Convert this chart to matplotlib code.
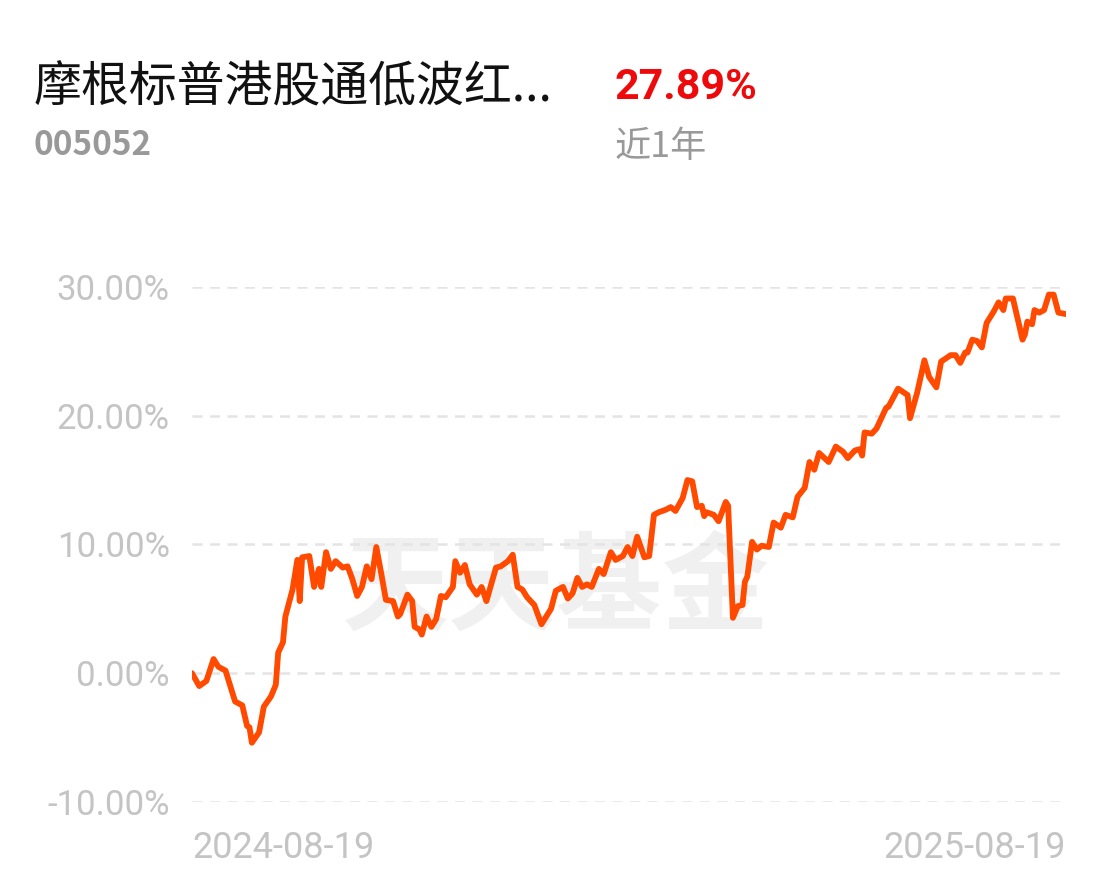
import matplotlib
matplotlib.use("Agg")
import matplotlib.pyplot as plt
import numpy as np
import pandas as pd

plt.rcParams["font.family"] = ["Noto Sans CJK SC", "DejaVu Sans"]

FUND_NAME = "摩根标普港股通低波红..."
FUND_CODE = "005052"
RETURN_TEXT = "27.89%"
PERIOD_TEXT = "近1年"
WATERMARK = "天天基金"

START = pd.Timestamp("2024-08-19")
END = pd.Timestamp("2025-08-19")

# days since start date
DAYS = [0, 3, 6, 9, 11, 14, 18, 21, 23, 24, 25, 28, 30, 33, 35, 36, 38, 39, 42, 44,
        45, 46, 49, 51, 53, 54, 56, 58, 60, 63, 65, 67, 69, 71, 73, 75, 77, 79, 81, 84,
        86, 87, 90, 92, 93, 95, 96, 98, 100, 102, 104, 106, 109, 110, 112, 114, 116, 119,
        121, 123, 127, 129, 132, 134, 136, 138, 140, 143, 146, 150, 152, 155, 157, 159,
        161, 163, 165, 167, 170, 172, 175, 177, 180, 182, 184, 186, 189, 191, 193, 195,
        198, 200, 202, 205, 207, 209, 211, 213, 214, 215, 218, 220, 223, 224, 226, 228,
        230, 231, 232, 234, 236, 238, 241, 243, 246, 248, 251, 253, 256, 258, 260, 262,
        266, 269, 272, 274, 277, 279, 280, 281, 284, 286, 288, 290, 291, 295, 299, 300,
        303, 306, 308, 311, 313, 317, 319, 321, 323, 324, 326, 328, 330, 332, 335, 337,
        339, 340, 343, 347, 348, 349, 351, 352, 354, 356, 358, 360, 362, 365]

# cumulative return, %
RETURNS = [0.0, -1.0, -0.6, 1.1, 0.5, 0.2, -2.2, -2.5, -4.1, -4.2, -5.4, -4.6, -2.6, -1.8,
           -0.9, 1.6, 2.4, 4.4, 6.5, 8.8, 5.6, 9.0, 9.1, 6.7, 8.1, 6.7, 9.4, 8.1, 8.7, 8.2,
           8.3, 7.3, 6.0, 6.7, 8.3, 7.3, 9.8, 7.8, 5.7, 5.6, 4.4, 4.6, 6.1, 5.6, 3.6, 3.4,
           3.0, 4.4, 3.6, 4.2, 6.0, 5.9, 6.7, 8.7, 7.8, 8.4, 6.9, 6.1, 6.7, 5.6, 8.2, 8.3,
           8.7, 9.2, 6.7, 6.5, 5.9, 5.3, 3.8, 5.0, 6.4, 6.7, 5.8, 6.2, 7.4, 6.7, 6.9, 6.7,
           8.1, 7.7, 9.4, 8.8, 9.1, 9.8, 9.1, 10.6, 9.0, 9.1, 12.3, 12.5, 12.7, 12.9, 12.6,
           13.6, 15.0, 14.9, 12.9, 13.0, 12.2, 12.5, 12.3, 11.8, 13.3, 13.0, 4.3, 5.2, 5.3,
           7.1, 7.5, 10.2, 9.6, 9.9, 9.8, 11.7, 11.3, 12.3, 12.1, 13.7, 14.4, 16.4, 15.8,
           17.1, 16.4, 17.6, 17.2, 16.7, 17.3, 17.4, 16.9, 18.7, 18.6, 19.0, 19.8, 20.6,
           20.7, 22.1, 21.6, 19.8, 21.8, 24.3, 23.0, 22.2, 24.2, 24.7, 24.7, 24.1, 24.9,
           24.9, 25.9, 25.8, 25.3, 27.2, 28.1, 28.8, 28.2, 29.1, 29.1, 25.9, 26.3, 27.3,
           27.1, 28.2, 28.0, 28.2, 29.4, 29.4, 28.0, 27.89]

Y_TICKS = [-10, 0, 10, 20, 30]

dates = [START + pd.Timedelta(days=d) for d in DAYS]

fig = plt.figure(figsize=(11.1, 8.76), dpi=100)
fig.patch.set_facecolor("white")
ax = fig.add_axes([0.173, 0.0845, 0.787, 0.588])

# watermark, sits under the line
ax.text(0.501, 0.326, WATERMARK, transform=fig.transFigure, fontsize=77,
        fontweight="bold", color="#f0f0f0", ha="center", va="center", zorder=0)

ax.plot(dates, RETURNS, color="#ff4a00", lw=4.2, solid_joinstyle="round",
        solid_capstyle="round", zorder=3)

ax.set_ylim(-10, 30)
ax.set_xlim(START, END)
ax.set_yticks(Y_TICKS)
ax.set_yticklabels([f"{v:.2f}%" for v in Y_TICKS])
for v in Y_TICKS:
    ax.axhline(v, color="#e4e4e4", lw=1.8, dashes=(4, 3), zorder=1)
ax.set_xticks([START, END])
ax.set_xticklabels([START.strftime("%Y-%m-%d"), END.strftime("%Y-%m-%d")])
xt = ax.get_xticklabels()
xt[0].set_ha("left")
xt[1].set_ha("right")
ax.tick_params(axis="both", length=0, labelcolor="#c4c4c4")
ax.tick_params(axis="y", pad=16, labelsize=25)
ax.tick_params(axis="x", pad=20, labelsize=26)
for lab in ax.get_xticklabels() + ax.get_yticklabels():
    lab.set_fontfamily(["Roboto", "DejaVu Sans"])
for s in ax.spines.values():
    s.set_visible(False)

# header texts
fig.text(0.030, 0.900, FUND_NAME, fontsize=34.5, color="#111111", ha="left", va="center")
fig.text(0.030, 0.834, FUND_CODE, fontsize=24, color="#999999", fontweight="bold",
         ha="left", va="center")
fig.text(0.554, 0.900, RETURN_TEXT, fontsize=31, color="#ee0a0a", fontweight="bold",
         family=["Roboto", "DejaVu Sans"], ha="left", va="center")
fig.text(0.554, 0.832, PERIOD_TEXT, fontsize=26, color="#999999", ha="left", va="center")

fig.savefig("out.png", dpi=100, facecolor="white")
